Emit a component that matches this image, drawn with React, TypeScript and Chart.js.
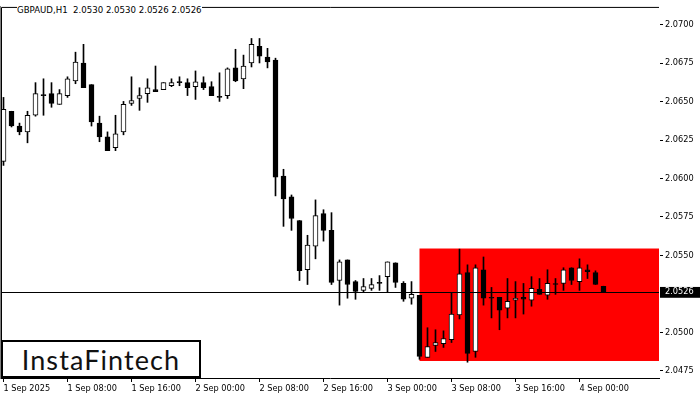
import React, { useEffect, useRef } from 'react';
import { Chart, registerables } from 'chart.js';

Chart.register(...registerables);

// ---- data (GBPAUD, H1) ----
const opens = [
  2.06111, 2.06437, 2.06341, 2.06303, 2.06411, 2.06539, 2.06552, 2.06482, 2.06539, 2.06635,
  2.0675, 2.0661, 2.0636, 2.06271, 2.062, 2.06303, 2.06488, 2.0652, 2.06552, 2.06578,
  2.06578, 2.06603, 2.06623, 2.06623, 2.06597, 2.06623, 2.06597, 2.06527, 2.06539, 2.06719,
  2.06648, 2.06751, 2.06859, 2.06789, 2.0677, 2.06015, 2.05881, 2.05727, 2.05407, 2.05561,
  2.05772, 2.05663, 2.05337, 2.05471, 2.0533, 2.05273, 2.05286, 2.05318, 2.05362, 2.05452,
  2.05318, 2.05222, 2.05241, 2.04838, 2.04915, 2.04927, 2.04953, 2.05113, 2.05388, 2.04876,
  2.05407, 2.05222, 2.05228, 2.05158, 2.0521, 2.05228, 2.0521, 2.05279, 2.05241, 2.05311,
  2.05318, 2.0542, 2.0533, 2.05407, 2.05388, 2.053,
];
const highs = [
  2.06527, 2.06437, 2.0636, 2.06437, 2.06623, 2.06648, 2.06623, 2.06578, 2.06661, 2.06821,
  2.06872, 2.0661, 2.06405, 2.06303, 2.06411, 2.06501, 2.06661, 2.0659, 2.06648, 2.06731,
  2.06623, 2.06648, 2.06661, 2.06648, 2.06699, 2.06661, 2.06629, 2.06687, 2.06719, 2.0684,
  2.06802, 2.0691, 2.0691, 2.06846, 2.06782, 2.0606, 2.05893, 2.05727, 2.05631, 2.05861,
  2.05797, 2.05778, 2.05471, 2.05471, 2.05337, 2.0535, 2.0535, 2.05369, 2.05458, 2.05452,
  2.0533, 2.0533, 2.05241, 2.0503, 2.05017, 2.0501, 2.05254, 2.05541, 2.05439, 2.05439,
  2.0549, 2.05292, 2.05228, 2.0535, 2.0533, 2.05318, 2.05362, 2.0535, 2.05407, 2.0535,
  2.0542, 2.0542, 2.05478, 2.05439, 2.054, 2.053,
];
const lows = [
  2.06085, 2.06335, 2.06284, 2.06232, 2.06405, 2.06411, 2.06463, 2.06482, 2.06527, 2.06616,
  2.06591, 2.06341, 2.06239, 2.06181, 2.06181, 2.06284, 2.06475, 2.06443, 2.06495, 2.06565,
  2.06578, 2.06597, 2.06603, 2.06539, 2.06514, 2.06578, 2.06539, 2.06501, 2.0652, 2.06629,
  2.06584, 2.06725, 2.06751, 2.06719, 2.05887, 2.05689, 2.05663, 2.05337, 2.05311, 2.05478,
  2.05593, 2.05311, 2.05177, 2.05222, 2.05215, 2.0526, 2.05273, 2.05273, 2.0526, 2.05292,
  2.05202, 2.05183, 2.04825, 2.04838, 2.04876, 2.04902, 2.04934, 2.05087, 2.04806, 2.04838,
  2.05177, 2.05094, 2.05017, 2.05094, 2.05094, 2.05119, 2.0517, 2.05247, 2.05215, 2.05247,
  2.05273, 2.05311, 2.05273, 2.0535, 2.05311, 2.0526,
];
const closes = [
  2.0645, 2.06341, 2.06303, 2.06411, 2.06552, 2.06539, 2.06488, 2.06552, 2.06648, 2.06757,
  2.06591, 2.06367, 2.06271, 2.06181, 2.0629, 2.06482, 2.06507, 2.06539, 2.0659, 2.06565,
  2.06623, 2.06623, 2.06623, 2.06591, 2.06629, 2.06591, 2.06539, 2.06527, 2.06712, 2.06635,
  2.06731, 2.06872, 2.06795, 2.06757, 2.06008, 2.05868, 2.0574, 2.05401, 2.05567, 2.05759,
  2.05663, 2.05324, 2.05458, 2.05311, 2.05266, 2.05298, 2.05311, 2.05318, 2.05458, 2.05324,
  2.05215, 2.05247, 2.04844, 2.04908, 2.04934, 2.04959, 2.05119, 2.05381, 2.04863, 2.0542,
  2.05222, 2.05222, 2.05145, 2.05202, 2.05222, 2.05215, 2.05286, 2.05247, 2.05318, 2.05311,
  2.05407, 2.05337, 2.0542, 2.05394, 2.05311, 2.0526,
];

const xTickIndex = [0, 8, 16, 24, 32, 40, 48, 56, 64, 72];
const xTickLabels = [
  '1 Sep 2025', '1 Sep 08:00', '1 Sep 16:00', '2 Sep 00:00', '2 Sep 08:00',
  '2 Sep 16:00', '3 Sep 00:00', '3 Sep 08:00', '3 Sep 16:00', '4 Sep 00:00',
];
const yTickValues = [2.0475, 2.05, 2.0526, 2.055, 2.0575, 2.06, 2.0625, 2.065, 2.0675, 2.07];
const currentPrice = 2.0526;

// pattern zone
const zoneStartIndex = 52;
const zoneHigh = 2.05545;
const zoneLow = 2.04814;

const titleText = 'GBPAUD,H1  2.0530 2.0530 2.0526 2.0526';

const isCur = (v: number) => Math.abs(v - currentPrice) < 1e-9;

export default function App() {
  const canvasRef = useRef<HTMLCanvasElement | null>(null);

  useEffect(() => {
    const canvas = canvasRef.current;
    if (!canvas) return;

    const bodyColors = opens.map((o, i) => (closes[i] > o ? '#ffffff' : '#000000'));

    const zonePlugin = {
      id: 'zone',
      beforeDatasetsDraw(chart: any) {
        const { ctx, chartArea, scales } = chart;
        const x0 = scales.x.getPixelForValue(zoneStartIndex);
        const y0 = scales.y.getPixelForValue(zoneHigh);
        const y1 = scales.y.getPixelForValue(zoneLow);
        ctx.save();
        ctx.fillStyle = '#ff0000';
        ctx.fillRect(x0, y0, chartArea.right - x0, y1 - y0);
        ctx.restore();
      },
    };

    const framePlugin = {
      id: 'frame',
      afterDraw(chart: any) {
        const { ctx, chartArea } = chart;
        ctx.save();
        ctx.strokeStyle = '#000';
        ctx.lineWidth = 1;
        ctx.beginPath();
        ctx.moveTo(chartArea.left + 0.5, chartArea.bottom);
        ctx.lineTo(chartArea.left + 0.5, chartArea.top + 0.5);
        ctx.lineTo(chartArea.right, chartArea.top + 0.5);
        ctx.stroke();
        ctx.restore();
      },
    };

    const tickFont = { family: 'DejaVu Sans', size: 8.2 };

    const chart = new Chart(canvas, {
      type: 'bar',
      data: {
        datasets: [
          {
            label: 'body',
            data: opens.map((o, i) => ({ x: i, y: [o, closes[i]] })) as any,
            backgroundColor: bodyColors,
            borderColor: '#000000',
            borderWidth: 1,
            borderSkipped: false,
            barThickness: 5,
            minBarLength: 1,
            grouped: false,
            order: 0,
          } as any,
          {
            label: 'wick',
            data: lows.map((l, i) => ({ x: i, y: [l, highs[i]] })) as any,
            backgroundColor: '#000000',
            borderWidth: 0,
            barThickness: 1,
            grouped: false,
            order: 1,
          } as any,
        ],
      },
      options: {
        animation: false,
        responsive: false,
        devicePixelRatio: 1,
        layout: { padding: { left: 1, top: 1, right: 0, bottom: 0 } },
        plugins: {
          legend: { display: false },
          tooltip: { enabled: false },
          title: { display: false },
        },
        scales: {
          x: {
            type: 'linear',
            min: -0.3125,
            max: 81.9375,
            offset: false,
            afterFit: (s: any) => { s.height = 22; },
            afterBuildTicks: (s: any) => { s.ticks = xTickIndex.map((v) => ({ value: v })); },
            grid: {
              display: true,
              drawOnChartArea: false,
              drawTicks: true,
              tickLength: 4,
              color: '#000',
              offset: false,
            },
            border: { display: true, color: '#000', width: 1 },
            ticks: {
              autoSkip: false,
              maxRotation: 0,
              minRotation: 0,
              align: 'start',
              padding: 2,
              color: '#000',
              font: tickFont,
              callback: (_v: any, idx: number) => xTickLabels[idx],
            },
          } as any,
          y: {
            type: 'linear',
            position: 'right',
            min: 2.0470345,
            max: 2.0711515,
            afterFit: (s: any) => { s.width = 41; },
            afterBuildTicks: (s: any) => { s.ticks = yTickValues.map((v) => ({ value: v })); },
            grid: {
              display: true,
              drawOnChartArea: true,
              drawTicks: true,
              tickLength: 4,
              z: 1,
              color: (ctx: any) => (ctx.tick && isCur(ctx.tick.value) ? '#000' : 'rgba(0,0,0,0)'),
              tickColor: '#000',
            },
            border: { display: true, color: '#000', width: 1 },
            ticks: {
              includeBounds: false,
              padding: 2,
              font: tickFont,
              color: (ctx: any) => (ctx.tick && isCur(ctx.tick.value) ? '#ffffff' : '#000000'),
              showLabelBackdrop: (ctx: any) => !!(ctx.tick && isCur(ctx.tick.value)),
              backdropColor: '#000000',
              backdropPadding: { left: 5, right: 7, top: 0.5, bottom: 0.5 },
              callback: (v: any) => Number(v).toFixed(4),
            },
          } as any,
        },
      } as any,
      plugins: [zonePlugin, framePlugin],
    });

    return () => chart.destroy();
  }, []);

  return (
    <div style={{ position: 'absolute', left: 0, top: 0, width: 700, height: 400, background: '#fff', overflow: 'hidden' }}>
      <canvas ref={canvasRef} width={700} height={400} style={{ display: 'block', width: 700, height: 400 }} />
      <div
        style={{
          position: 'absolute', left: 17, top: 5, lineHeight: '10px', fontSize: 8.6,
          fontFamily: 'DejaVu Sans', color: '#000', whiteSpace: 'pre', background: '#fff',
        }}
      >
        {titleText}
      </div>
      <div
        style={{
          position: 'absolute', left: 1, top: 340, width: 200, height: 38, boxSizing: 'border-box',
          border: '2px solid #000', background: '#fff', display: 'flex', alignItems: 'center',
          justifyContent: 'center', fontFamily: 'Lato', fontSize: 27, letterSpacing: 1.1,
          color: '#111', lineHeight: '34px', paddingTop: 1,
        }}
      >
        InstaFintech
      </div>
    </div>
  );
}
